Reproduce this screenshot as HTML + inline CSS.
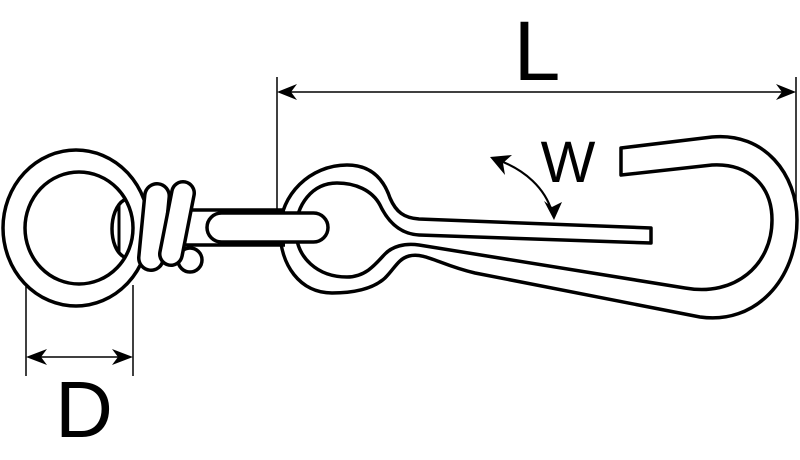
<!DOCTYPE html>
<html><head><style>html,body{margin:0;padding:0;background:#fff}svg{display:block}</style></head>
<body>
<svg width="800" height="460" viewBox="0 0 800 460" xmlns="http://www.w3.org/2000/svg">
<g fill="none" stroke="#000" stroke-width="1.5">
<line x1="277" y1="77" x2="277" y2="212"/>
<line x1="796" y1="77" x2="796" y2="210"/>
<line x1="285" y1="92" x2="788" y2="92"/>
<line x1="26" y1="285" x2="26" y2="376"/>
<line x1="133" y1="285" x2="133" y2="376"/>
<line x1="34" y1="357" x2="125" y2="357"/>
<path d="M498,160 C525,170 545,188 552,212" stroke-width="2.2"/>
</g>
<g fill="#000">
<path d="M277,92 L297,84 L291,92 L297,100 Z"/>
<path d="M796,92 L776,84 L782,92 L776,100 Z"/>
<path d="M26,357 L47,349 L41,357 L47,365 Z"/>
<path d="M133,357 L112,349 L118,357 L112,365 Z"/>
<path d="M490,157 L512,155 L503,163 L505,175 Z"/>
<path d="M554,220 L544,201 L552,207 L562,202 Z"/>
</g>
<g fill="none" stroke="#000" stroke-width="3.5" stroke-linejoin="round">
<ellipse cx="76" cy="228" rx="73" ry="78"/>
<ellipse cx="79" cy="228" rx="54" ry="56"/>
<path d="M124,200 C108,210 108,248 124,257"/>
<line x1="119" y1="205" x2="119" y2="252" stroke-width="3"/>
<path fill="#fff" d="M347,165 C372,165 384,180 390,198 C396,212 404,218 419,219 L651,228 L651,243 L419,235 C400,234 388,222 380,205 C372,190 355,183 337,183 C312,183 296,205 296,230 C296,258 318,277 347,277 C365,277 375,265 384,255 C392,246 405,243 419,245 L685,288 C735,297 772,265 772,220 C772,185 748,163 712,165 L621,175 L621,148 L712,137 C765,132 797,175 797,220 C797,280 755,325 700,317 L475,273 C440,265 425,252 409,256 C398,259 395,268 385,278 C372,290 352,293 332,293 C300,293 280,265 280,230 C280,195 310,165 347,165 Z"/>
<rect x="185" y="210" width="100" height="35" fill="#fff" stroke="none"/>
<line x1="185" y1="210" x2="285" y2="210"/>
<line x1="185" y1="245" x2="285" y2="245"/>
<rect x="207" y="213" width="121" height="29" rx="14.5" fill="#fff"/>
<circle cx="190" cy="260" r="12" fill="#fff"/>
</g>
<g stroke-linecap="round">
<line x1="157" y1="196" x2="151" y2="258" stroke="#000" stroke-width="28"/>
<line x1="157" y1="196" x2="151" y2="258" stroke="#fff" stroke-width="21"/>
<line x1="183" y1="193" x2="171" y2="254" stroke="#000" stroke-width="26"/>
<line x1="183" y1="193" x2="171" y2="254" stroke="#fff" stroke-width="19"/>
</g>
<text x="537" y="80" font-family="Liberation Sans, sans-serif" font-size="84" text-anchor="middle">L</text>
<text x="568" y="182" font-family="Liberation Sans, sans-serif" font-size="58" text-anchor="middle">W</text>
<text x="84" y="437" font-family="Liberation Sans, sans-serif" font-size="80" text-anchor="middle">D</text>
</svg>
</body></html>
